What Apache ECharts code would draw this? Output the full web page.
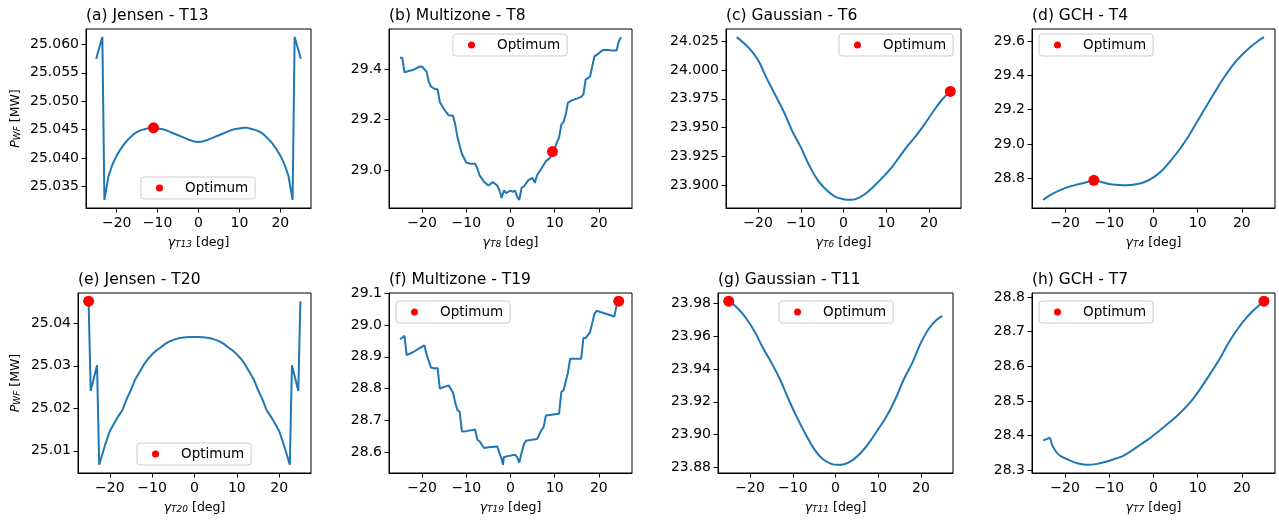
<!DOCTYPE html>
<html><head><meta charset="utf-8">
<script src="https://cdn.jsdelivr.net/npm/echarts@6/dist/echarts.min.js"></script>
<style>html,body{margin:0;padding:0;background:#fff}#c{width:1279px;height:520px}</style>
</head><body><div id="c"></div><script>
// ---------- DATA (yaw angle gamma [deg], wind-farm power P_WF [MW]) ----------
const xTicks = [-20, -10, 0, 10, 20];

const jensenT13 = [[-25,25.0575],[-24.5,25.0588],[-24,25.0601],[-23.5,25.0613],[-23,25.0326],[-22,25.0368],[-21,25.0389],[-20,25.0404],[-19,25.0416],[-18,25.0426],[-17,25.0434],[-16,25.0441],[-15,25.0446],[-14,25.0449],[-13,25.0451],[-12,25.0453],[-11,25.0453],[-10,25.0452],[-9,25.0451],[-8,25.0449],[-7,25.0446],[-6,25.0443],[-5,25.0440],[-4,25.0437],[-3,25.0434],[-2,25.0431],[-1,25.0429],[0,25.0428],[1,25.0429],[2,25.0431],[3,25.0434],[4,25.0437],[5,25.0440],[6,25.0443],[7,25.0446],[8,25.0449],[9,25.0451],[10,25.0452],[11,25.0453],[12,25.0453],[13,25.0451],[14,25.0449],[15,25.0446],[16,25.0441],[17,25.0434],[18,25.0426],[19,25.0416],[20,25.0404],[21,25.0389],[22,25.0368],[23,25.0326],[23.5,25.0613],[24,25.0601],[24.5,25.0588],[25,25.0575]];
const jensenT13Opt = [-11, 25.0453];
const jensenT13Ticks = [25.035, 25.040, 25.045, 25.050, 25.055, 25.060];

const multizoneT8 = [[-25,29.445],[-24.5,29.445],[-24,29.387],[-22,29.397],[-20.5,29.41],[-20,29.409],[-19,29.39],[-18.5,29.35],[-18,29.33],[-17,29.32],[-16.5,29.32],[-16,29.27],[-15,29.24],[-14,29.217],[-13,29.215],[-12.5,29.18],[-12,29.13],[-11,29.065],[-10,29.03],[-9,29.026],[-8,29.026],[-7.5,29.007],[-7,28.98],[-6,28.955],[-5,28.94],[-4,28.953],[-3,28.94],[-2.5,28.92],[-2,28.89],[-1.5,28.92],[-1,28.91],[0,28.92],[0.5,28.915],[1,28.92],[1.5,28.896],[2,28.883],[2.5,28.93],[3,28.935],[4,28.96],[5,28.97],[5.5,28.95],[6,28.98],[7,29.007],[8,29.036],[9,29.05],[9.5,29.074],[10,29.085],[10.5,29.11],[11,29.13],[11.5,29.18],[12,29.19],[12.5,29.22],[13,29.267],[14,29.277],[15,29.283],[16,29.29],[16.5,29.30],[17,29.358],[18,29.37],[18.5,29.41],[19,29.45],[20,29.462],[20.5,29.47],[21,29.475],[22,29.475],[23,29.473],[24,29.473],[24.5,29.508],[25,29.526]];
const multizoneT8Opt = [9.5, 29.074];
const multizoneT8Ticks = [29.0, 29.2, 29.4];

const gaussianT6 = [[-25,24.0287],[-22,24.0187],[-20,24.0087],[-18,23.993],[-16,23.9786],[-14,23.964],[-12,23.947],[-10,23.933],[-8,23.917],[-6,23.904],[-4,23.8957],[-2,23.890],[0,23.8877],[1.5,23.8871],[3,23.888],[5,23.892],[7,23.8986],[9,23.906],[11,23.914],[13,23.924],[15,23.934],[17,23.943],[19,23.953],[21,23.964],[23,23.974],[25,23.9815]];
const gaussianT6Opt = [25, 23.9815];
const gaussianT6Ticks = [23.900, 23.925, 23.950, 23.975, 24.000, 24.025];

const gchT4 = [[-25,28.675],[-23,28.708],[-21,28.733],[-19,28.752],[-17,28.7655],[-15,28.779],[-13.5,28.789],[-12,28.781],[-10,28.767],[-8,28.762],[-6,28.76],[-4,28.7655],[-2,28.779],[0,28.806],[2,28.848],[4,28.906],[6,28.973],[8,29.049],[10,29.136],[12,29.222],[14,29.308],[16,29.389],[18,29.462],[20,29.519],[22,29.567],[24,29.606],[25,29.623]];
const gchT4Opt = [-13.5, 28.789];
const gchT4Ticks = [28.8, 29.0, 29.2, 29.4, 29.6];

const jensenT20 = [[-25,25.0452],[-24.5,25.0241],[-23,25.0301],[-22.5,25.0067],[-21,25.0117],[-20,25.0146],[-19,25.0164],[-18,25.0181],[-17,25.0196],[-16,25.0222],[-15,25.0243],[-14,25.0268],[-13,25.0285],[-12,25.0302],[-11,25.0316],[-10,25.0327],[-9,25.0336],[-8,25.0343],[-7,25.0351],[-6,25.0357],[-5,25.0361],[-4,25.0364],[-3,25.0366],[-2,25.0367],[-1,25.0368],[0,25.0368],[1,25.0368],[2,25.0367],[3,25.0366],[4,25.0364],[5,25.0361],[6,25.0357],[7,25.0351],[8,25.0343],[9,25.0336],[10,25.0327],[11,25.0316],[12,25.0302],[13,25.0285],[14,25.0268],[15,25.0243],[16,25.0222],[17,25.0196],[18,25.0181],[19,25.0164],[20,25.0146],[21,25.0117],[22.5,25.0067],[23,25.0301],[24.5,25.0241],[25,25.0452]];
const jensenT20Opt = [-25, 25.0452];
const jensenT20Ticks = [25.01, 25.02, 25.03, 25.04];

const multizoneT19 = [[-25,28.9555],[-24.5,28.96],[-24,28.966],[-23.5,28.905],[-22,28.915],[-20,28.932],[-19.5,28.936],[-19,28.908],[-18,28.866],[-17,28.863],[-16.5,28.865],[-16,28.80],[-14,28.81],[-13,28.787],[-12.5,28.755],[-12,28.732],[-11.5,28.727],[-11,28.665],[-10,28.666],[-8,28.671],[-7.5,28.639],[-7,28.634],[-6,28.613],[-5,28.615],[-3,28.618],[-2.5,28.597],[-2,28.579],[-1.7,28.56],[-1.5,28.584],[-1,28.586],[0,28.589],[1,28.592],[1.5,28.584],[2,28.567],[2.5,28.597],[3,28.623],[3.5,28.636],[6,28.641],[7,28.669],[7.5,28.679],[8,28.715],[11,28.721],[11.5,28.789],[12,28.795],[13,28.85],[13.5,28.894],[16,28.894],[16.5,28.959],[17,28.959],[18,28.977],[19,29.035],[19.5,29.045],[23.5,29.027],[24,29.061],[24.5,29.075]];
const multizoneT19Opt = [24.5, 29.075];
const multizoneT19Ticks = [28.6, 28.7, 28.8, 28.9, 29.0, 29.1];

const gaussianT11 = [[-25,23.9814],[-23,23.9774],[-21,23.9713],[-19,23.9632],[-17,23.953],[-15,23.9439],[-13,23.9338],[-11,23.9216],[-9,23.9104],[-7,23.9003],[-5,23.8912],[-3,23.8851],[-1,23.8822],[0.5,23.8816],[2,23.882],[4,23.8845],[6,23.8891],[8,23.8956],[10,23.9033],[12,23.9114],[14,23.9216],[16,23.9338],[18,23.9439],[20,23.9561],[22,23.9652],[24,23.9707],[25,23.9723]];
const gaussianT11Opt = [-25, 23.9814];
const gaussianT11Ticks = [23.88, 23.90, 23.92, 23.94, 23.96, 23.98];

const gchT7 = [[-25,28.3865],[-24,28.391],[-23.5,28.394],[-23,28.375],[-22,28.353],[-21,28.341],[-19,28.329],[-17,28.320],[-15,28.316],[-13,28.318],[-11,28.324],[-9,28.332],[-7,28.341],[-5,28.356],[-3,28.374],[-1,28.391],[1,28.411],[3,28.432],[5,28.453],[7,28.478],[9,28.507],[11,28.543],[13,28.582],[15,28.622],[17,28.668],[19,28.707],[21,28.740],[23,28.766],[25,28.788]];
const gchT7Opt = [25, 28.788];
const gchT7Ticks = [28.3, 28.4, 28.5, 28.6, 28.7, 28.8];

const titles = ['(a) Jensen - T13','(b) Multizone - T8','(c) Gaussian - T6','(d) GCH - T4',
                '(e) Jensen - T20','(f) Multizone - T19','(g) Gaussian - T11','(h) GCH - T7'];
const turbines = ['T13','T8','T6','T4','T20','T19','T11','T7'];
const curves = [jensenT13, multizoneT8, gaussianT6, gchT4, jensenT20, multizoneT19, gaussianT11, gchT7];
const optima = [jensenT13Opt, multizoneT8Opt, gaussianT6Opt, gchT4Opt, jensenT20Opt, multizoneT19Opt, gaussianT11Opt, gchT7Opt];
const yTicks = [jensenT13Ticks, multizoneT8Ticks, gaussianT6Ticks, gchT4Ticks, jensenT20Ticks, multizoneT19Ticks, gaussianT11Ticks, gchT7Ticks];
const yDecimals = [3, 1, 3, 1, 2, 1, 2, 1];
const legendLabel = 'Optimum';

// ---------- STYLE / LAYOUT ----------
const smoothing = [0, 0, 0.4, 0.4, 0, 0, 0.4, 0.25];
const grids = [
  {left: 86, top: 29, width: 225, height: 179},
  {left: 389, top: 29, width: 243, height: 179},
  {left: 726, top: 29, width: 235, height: 179},
  {left: 1032, top: 29, width: 243, height: 179},
  {left: 78, top: 293, width: 233, height: 180},
  {left: 389, top: 293, width: 243, height: 180},
  {left: 718, top: 293, width: 235, height: 180},
  {left: 1032, top: 293, width: 243, height: 180}
];
const legendPos = [
  {left: 141, top: 177}, {left: 453, top: 34}, {left: 839, top: 34}, {left: 1039, top: 34},
  {left: 137, top: 443}, {left: 396, top: 301}, {left: 779, top: 301}, {left: 1039, top: 301}
];

const FONT = 'DejaVu Sans';
const TICK_FS = 14;
const LEG_FS = 13.5;
const rich = {
  i: {fontFamily: FONT, fontStyle: 'italic', fontSize: 12.5, color: '#000'},
  s: {fontFamily: FONT, fontStyle: 'italic', fontSize: 9, color: '#000', padding: [4, 0, 0, 0]},
  n: {fontFamily: FONT, fontSize: 12.5, color: '#000'}
};
function fmt(v, d) { return (v < 0 ? '\u2212' : '') + Math.abs(v).toFixed(d); }

const option = {
  backgroundColor: '#fff', animation: false,
  title: [], grid: [], xAxis: [], yAxis: [], series: [], legend: []
};

for (let i = 0; i < 8; i++) {
  const g = grids[i];
  option.grid.push({left: g.left, top: g.top, width: g.width, height: g.height,
    show: true, borderColor: '#000', borderWidth: 1, backgroundColor: '#fff', containLabel: false});
  option.title.push({text: titles[i], left: g.left, top: g.top - 21, padding: 0,
    textStyle: {fontFamily: FONT, fontSize: 15.5, fontWeight: 'normal', color: '#000'}});
  const ys = curves[i].map(p => p[1]).concat([optima[i][1]]);
  const ymin = Math.min(...ys), ymax = Math.max(...ys);
  const xr = -25, xR = 25; // sampled yaw range
  const xm = 0.05 * (xR - xr), ym = 0.05 * (ymax - ymin);
  option.xAxis.push({
    type: 'value', gridIndex: i, min: xr - xm, max: xR + xm,
    name: '{i|\u03b3}{s|' + turbines[i] + '}{n| [deg]}', nameLocation: 'middle', nameGap: 28,
    nameTextStyle: {rich: rich},
    axisLine: {show: true, onZero: false, lineStyle: {color: '#000', width: 1}},
    axisTick: {show: true, length: 4.5, customValues: xTicks, lineStyle: {color: '#000', width: 1}},
    axisLabel: {customValues: xTicks, margin: 8, fontFamily: FONT, fontSize: TICK_FS, color: '#000',
      formatter: v => fmt(v, 0)},
    splitLine: {show: false}
  });
  const d = yDecimals[i];
  const yAx = {
    type: 'value', gridIndex: i, min: ymin - ym, max: ymax + ym,
    axisLine: {show: true, onZero: false, lineStyle: {color: '#000', width: 1}},
    axisTick: {show: true, length: 4.5, customValues: yTicks[i], lineStyle: {color: '#000', width: 1}},
    axisLabel: {customValues: yTicks[i], margin: 7, fontFamily: FONT, fontSize: TICK_FS, color: '#000',
      formatter: v => fmt(v, d)},
    splitLine: {show: false}
  };
  if (i === 0 || i === 4) {
    yAx.name = '{i|P}{s|WF}{n| [MW]}';
    yAx.nameLocation = 'middle';
    yAx.nameRotate = 90;
    yAx.nameGap = i === 0 ? 64 : 56;
    yAx.nameTextStyle = {rich: rich};
  }
  option.yAxis.push(yAx);
  option.series.push({
    type: 'line', xAxisIndex: i, yAxisIndex: i, data: curves[i], symbol: 'none', showSymbol: false,
    smooth: smoothing[i] || false,
    lineStyle: {color: '#1f77b4', width: 2}, z: 2, silent: true
  });
  option.series.push({
    type: 'scatter', name: legendLabel, xAxisIndex: i, yAxisIndex: i, data: [optima[i]],
    symbol: 'circle', symbolSize: 11, itemStyle: {color: '#ff0000', opacity: 1}, z: 3, silent: true
  });
  option.legend.push({
    data: [legendLabel], left: legendPos[i].left, top: legendPos[i].top, orient: 'horizontal',
    icon: 'circle', itemWidth: 7, itemHeight: 7, padding: [4, 7, 4, 15],
    backgroundColor: 'rgba(255,255,255,0.8)', borderColor: '#cccccc', borderWidth: 1, borderRadius: 3,
    selectedMode: false,
    itemStyle: {color: '#ff0000', opacity: 1},
    textStyle: {fontFamily: FONT, fontSize: LEG_FS, color: '#000', padding: [0, 0, 0, 17]}
  });
}

const chart = echarts.init(document.getElementById('c'), null, {renderer: 'canvas'});
chart.setOption(option);
</script></body></html>
